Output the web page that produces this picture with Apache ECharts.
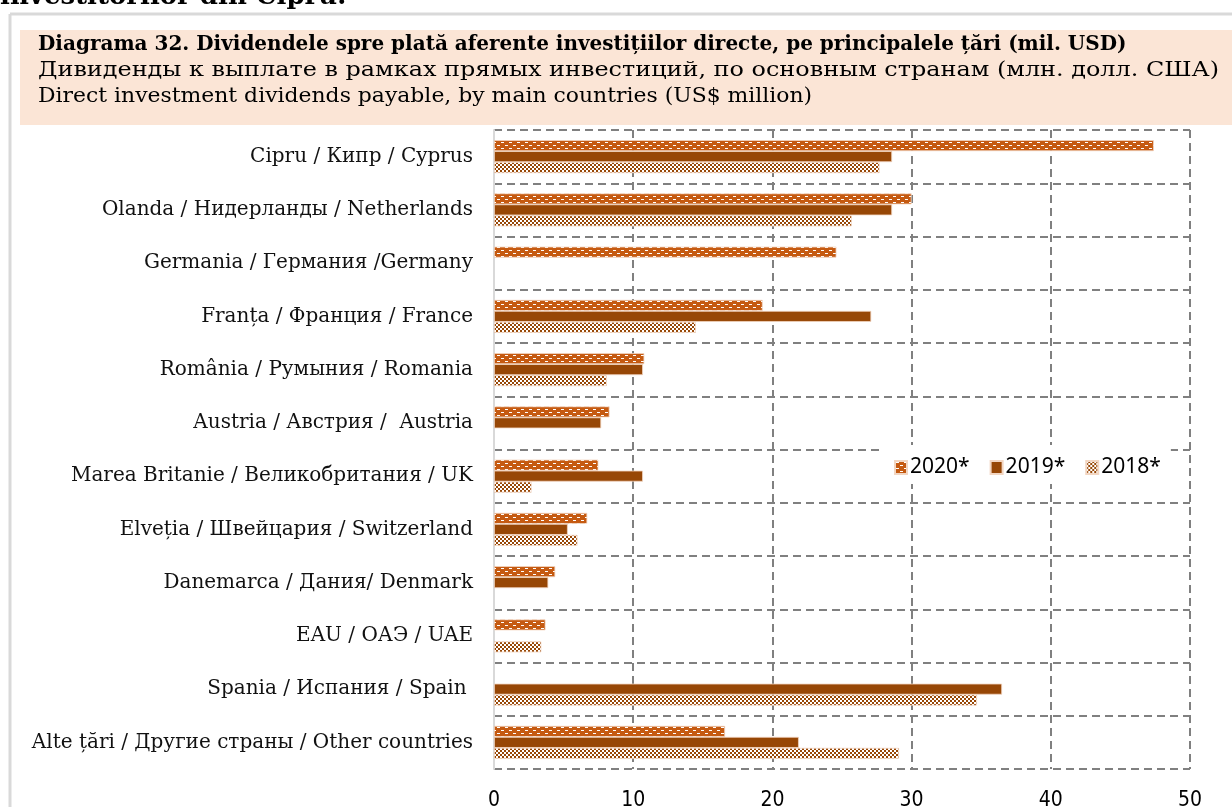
<!DOCTYPE html>
<html>
<head>
<meta charset="utf-8">
<script src="https://cdn.jsdelivr.net/npm/echarts@6/dist/echarts.min.js"></script>
<style>
html,body{margin:0;padding:0;background:#fff;}
#chart{width:1232px;height:807px;}
</style>
</head>
<body>
<div id="chart"></div>
<script>
const categories = [
  "Cipru / Кипр / Cyprus",
  "Olanda / Нидерланды / Netherlands",
  "Germania / Германия /Germany",
  "Franța / Франция / France",
  "România / Румыния / Romania",
  "Austria / Австрия /  Austria",
  "Marea Britanie / Великобритания / UK",
  "Elveția / Швейцария / Switzerland",
  "Danemarca / Дания/ Denmark",
  "EAU / ОАЭ / UAE",
  "Spania / Испания / Spain ",
  "Alte țări / Другие страны / Other countries"
];
const seriesNames = ["2020*", "2019*", "2018*"];
const v2020 = [47.4, 30.0, 24.6, 19.3, 10.8, 8.3, 7.5, 6.7, 4.4, 3.7, null, 16.6];
const v2019 = [28.6, 28.6, null, 27.1, 10.7, 7.7, 10.7, 5.3, 3.9, null, 36.5, 21.9];
const v2018 = [27.7, 25.7, null, 14.5, 8.1, null, 2.7, 6.0, null, 3.4, 34.7, 29.1];
const xTicks = [0, 10, 20, 30, 40, 50];

const titleLines = [
  "Diagrama 32. Dividendele spre plată aferente investițiilor directe, pe principalele țări (mil. USD)",
  "Дивиденды к выплате в рамках прямых инвестиций, по основным странам (млн. долл. США)",
  "Direct investment dividends payable, by main countries (US$ million)"
];
const topCutText = "investitorilor din Cipru.";

const ORANGE = '#C55A11';
const BROWN = '#974706';

function patternDash() {
  const c = document.createElement('canvas');
  c.width = 8; c.height = 6;
  const g = c.getContext('2d');
  g.fillStyle = ORANGE; g.fillRect(0, 0, 8, 6);
  g.fillStyle = '#ffffff';
  g.fillRect(1, 1, 3, 1);
  g.fillRect(5, 4, 3, 1);
  return c;
}
function patternCheck() {
  const c = document.createElement('canvas');
  c.width = 4; c.height = 4;
  const g = c.getContext('2d');
  g.fillStyle = BROWN; g.fillRect(0, 0, 4, 4);
  g.fillStyle = '#ffffff';
  g.fillRect(0, 0, 2, 2);
  g.fillRect(2, 2, 2, 2);
  return c;
}

const serifFont = '"DejaVu Serif", "Liberation Serif", serif';
const narrowFont = '"Liberation Sans Narrow", "DejaVu Sans Condensed", "Roboto Condensed", sans-serif';

const chart = echarts.init(document.getElementById('chart'), null, {renderer: 'canvas'});

const colors = [
  {image: patternDash(), repeat: 'repeat'},
  BROWN,
  {image: patternCheck(), repeat: 'repeat'}
];
const dataSets = [v2020, v2019, v2018];

chart.setOption({
  backgroundColor: '#ffffff',
  animation: false,
  graphic: [
    {type: 'text', x: 0, y: 10, style: {text: topCutText, font: 'bold 26px ' + serifFont, fill: '#000', textVerticalAlign: 'bottom'}},
    {type: 'line', shape: {x1: 10, y1: 14, x2: 1232, y2: 14}, style: {stroke: '#d9d9d9', lineWidth: 3}},
    {type: 'line', shape: {x1: 10, y1: 14, x2: 10, y2: 807}, style: {stroke: '#d9d9d9', lineWidth: 3}},
    {type: 'rect', shape: {x: 20, y: 30, width: 1212, height: 95}, style: {fill: '#FBE5D6'}},
    {type: 'text', x: 38, y: 45, style: {text: titleLines[0], font: 'bold 20px ' + serifFont, fill: '#000', textVerticalAlign: 'middle'}},
    {type: 'text', x: 38, y: 71, scaleX: 1.139, style: {text: titleLines[1], font: '21px ' + serifFont, fill: '#000', textVerticalAlign: 'middle'}},
    {type: 'text', x: 38, y: 97, scaleX: 1.043, style: {text: titleLines[2], font: '21px ' + serifFont, fill: '#000', textVerticalAlign: 'middle'}}
  ],
  legend: {
    data: seriesNames,
    left: 884,
    top: 445,
    itemWidth: 12,
    itemHeight: 13,
    itemGap: 20,
    padding: [12, 10, 6, 10],
    backgroundColor: '#ffffff',
    textStyle: {fontFamily: '"Noto Sans", sans-serif', fontSize: 21, color: '#000', padding: [0, 0, 0, -2]},
    icon: 'rect'
  },
  grid: {left: 494, right: 42, top: 130, bottom: 38, containLabel: false, outerBoundsMode: 'none'},
  xAxis: {
    type: 'value',
    min: 0, max: 50, interval: 10,
    axisLine: {show: false},
    axisTick: {show: false},
    axisLabel: {
      margin: 21,
      fontFamily: narrowFont,
      fontSize: 21,
      color: '#000',
      formatter: function (v) { return xTicks.indexOf(v) >= 0 ? String(v) : ''; }
    },
    splitLine: {show: true, lineStyle: {color: '#808080', width: 2, type: [8, 5]}}
  },
  yAxis: {
    type: 'category',
    data: categories,
    inverse: true,
    axisLine: {show: true, lineStyle: {color: '#d9d9d9', width: 2}},
    axisTick: {show: false},
    axisLabel: {margin: 21, fontFamily: serifFont, fontSize: 20, color: '#111'},
    splitLine: {show: true, lineStyle: {color: '#808080', width: 2, type: [8, 5]}}
  },
  series: seriesNames.map(function (name, i) {
    return {
      name: name,
      type: 'bar',
      data: dataSets[i],
      barWidth: 11,
      barGap: '0%',
      itemStyle: {color: colors[i], borderColor: '#F2D6C2', borderWidth: 0.8}
    };
  })
});
</script>
</body>
</html>
